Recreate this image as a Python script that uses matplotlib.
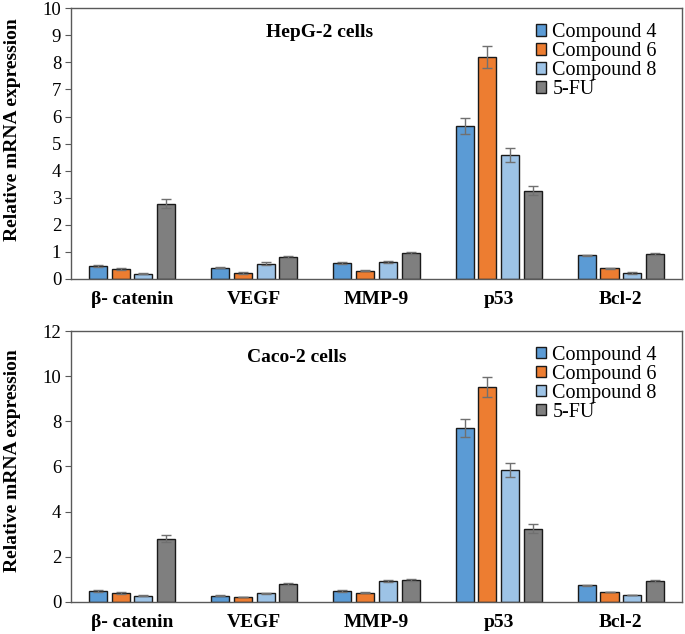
import matplotlib.pyplot as plt
import numpy as np

plt.rcParams["font.family"] = ["Liberation Serif", "DejaVu Serif"]

genes = ["β- catenin", "VEGF", "MMP-9", "p53", "Bcl-2"]
series = ["Compound 4", "Compound 6", "Compound 8", "5-FU"]
colors = ["#5B9BD5", "#ED7D31", "#9DC3E6", "#7F7F7F"]

# HepG-2 cells
hep_c4 = [0.47, 0.42, 0.60, 5.65, 0.87]
hep_c6 = [0.37, 0.22, 0.31, 8.20, 0.40]
hep_c8 = [0.20, 0.57, 0.63, 4.57, 0.22]
hep_fu = [2.78, 0.80, 0.96, 3.26, 0.92]
hep_c4_err = [0.03, 0.03, 0.03, 0.28, 0.03]
hep_c6_err = [0.03, 0.02, 0.02, 0.42, 0.02]
hep_c8_err = [0.02, 0.04, 0.03, 0.25, 0.02]
hep_fu_err = [0.16, 0.04, 0.04, 0.16, 0.03]

# Caco-2 cells
caco_c4 = [0.48, 0.28, 0.49, 7.70, 0.74]
caco_c6 = [0.39, 0.22, 0.40, 9.52, 0.44]
caco_c8 = [0.27, 0.38, 0.93, 5.85, 0.31]
caco_fu = [2.80, 0.80, 0.98, 3.24, 0.93]
caco_c4_err = [0.03, 0.02, 0.03, 0.40, 0.03]
caco_c6_err = [0.03, 0.02, 0.02, 0.43, 0.02]
caco_c8_err = [0.02, 0.03, 0.03, 0.30, 0.02]
caco_fu_err = [0.15, 0.03, 0.04, 0.20, 0.03]


def panel(ax, vals, errs, ymax, ystep, title, tx, ty, label_y):
    x = np.arange(len(genes))
    step = 0.186
    width = 0.148
    for i, (v, e) in enumerate(zip(vals, errs)):
        ax.bar(x + (i - 1.5) * step, v, width, yerr=e, color=colors[i],
               edgecolor="#1a1a1a", linewidth=1.0, label=series[i],
               error_kw=dict(ecolor="#707070", elinewidth=1.0, capsize=3.5,
                             capthick=1.0))
    ax.set_xlim(-0.5, len(genes) - 0.5)
    ax.set_ylim(0, ymax)
    ax.set_yticks(np.arange(0, ymax + 0.01, ystep))
    ax.set_xticks(x)
    ax.set_xticklabels(genes, fontsize=14, fontweight="bold")
    ax.tick_params(axis="x", length=0, pad=9)
    ax.tick_params(axis="y", labelsize=13.5, length=4, direction="out",
                   color="#595959", pad=3)
    for s in ax.spines.values():
        s.set_color("#595959")
        s.set_linewidth(1.0)
    ax.set_ylabel("Relative mRNA expression", fontsize=14, fontweight="bold")
    ax.yaxis.set_label_coords(-0.082, label_y)
    ax.text(tx, ty, title, transform=ax.transAxes, fontsize=14,
            fontweight="bold", ha="center", va="center")
    ax.legend(loc="upper right", fontsize=14.5, frameon=False,
              handlelength=0.5, handleheight=0.5, handletextpad=0.3,
              labelspacing=0.0, borderaxespad=0.0,
              bbox_to_anchor=(0.972, 0.975))


fig = plt.figure(figsize=(6.85, 6.34), dpi=100)
ax1 = fig.add_axes([0.1036, 0.56, 0.892, 0.427])
ax2 = fig.add_axes([0.1036, 0.0505, 0.892, 0.4274])

panel(ax1, [hep_c4, hep_c6, hep_c8, hep_fu],
      [hep_c4_err, hep_c6_err, hep_c8_err, hep_fu_err],
      10, 1, "HepG-2 cells", 0.407, 0.91, 0.55)
panel(ax2, [caco_c4, caco_c6, caco_c8, caco_fu],
      [caco_c4_err, caco_c6_err, caco_c8_err, caco_fu_err],
      12, 2, "Caco-2 cells", 0.37, 0.904, 0.52)

fig.savefig("out.png", dpi=100)
